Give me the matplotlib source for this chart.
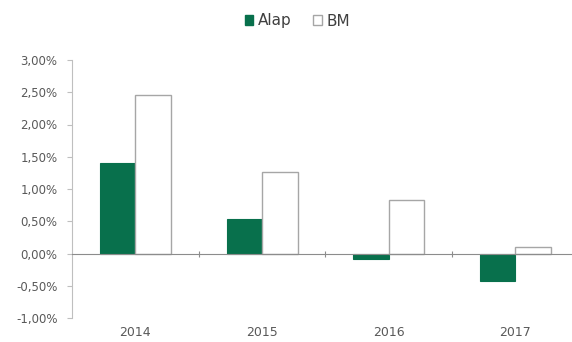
import matplotlib
matplotlib.use("Agg")
import matplotlib.pyplot as plt
import matplotlib.transforms as mtransforms
from matplotlib.ticker import FuncFormatter
from matplotlib.patches import Patch
import numpy as np

years = ["2014", "2015", "2016", "2017"]
alap = [1.40, 0.54, -0.08, -0.42]
bm = [2.46, 1.27, 0.83, 0.10]

plt.rcParams['font.family'] = ['DejaVu Sans']

green = "#08704c"
edge_grey = "#a6a6a6"
text_grey = "#595959"

fig = plt.figure(figsize=(5.72, 3.42), dpi=100)
ax = fig.add_axes([72/572, 1-318/342, 506.8/572, 258/342])

x = np.arange(len(years))
w = 0.28
ax.bar(x - 0.14, alap, width=w, color=green, edgecolor=green, linewidth=0.8, label="Alap")
ax.bar(x + 0.14, bm, width=w, color="white", edgecolor=edge_grey, linewidth=1.0, label="BM")

ax.set_xlim(-0.5, 3.5)
ax.set_ylim(-1.0, 3.0)
ax.set_yticks(np.arange(-1.0, 3.01, 0.5))
ax.yaxis.set_major_formatter(FuncFormatter(lambda v, p: f"{v:.2f}%".replace(".", ",")))
ax.tick_params(axis='y', labelsize=8.5, labelcolor=text_grey, color="#bfbfbf",
               length=3.5, width=0.8, direction='out', pad=7)

for s in ['top', 'right']:
    ax.spines[s].set_visible(False)
ax.spines['left'].set_color("#bfbfbf")
ax.spines['bottom'].set_position(('data', 0))
ax.spines['bottom'].set_color("#8c8c8c")
ax.set_xticks([0.5, 1.5, 2.5, 3.5])
ax.set_xticklabels([])
ax.tick_params(axis='x', direction='inout', length=5, width=0.8, color="#8c8c8c")

trans = mtransforms.blended_transform_factory(ax.transData, fig.transFigure)
for xi, yl in zip(x, years):
    ax.text(xi, 1 - 333/342, yl, transform=trans, ha='center', va='center',
            fontsize=9, color=text_grey)

handles = [Patch(facecolor=green, edgecolor=green, label="Alap"),
           Patch(facecolor="white", edgecolor=edge_grey, label="BM")]
fig.legend(handles=handles, loc='center', bbox_to_anchor=(0.52, 1 - 21/342), ncol=2,
           frameon=False, fontsize=11, handlelength=0.55, handleheight=0.55,
           handletextpad=0.3, columnspacing=1.4, labelcolor="#404040")

fig.savefig("out.png", dpi=100)
